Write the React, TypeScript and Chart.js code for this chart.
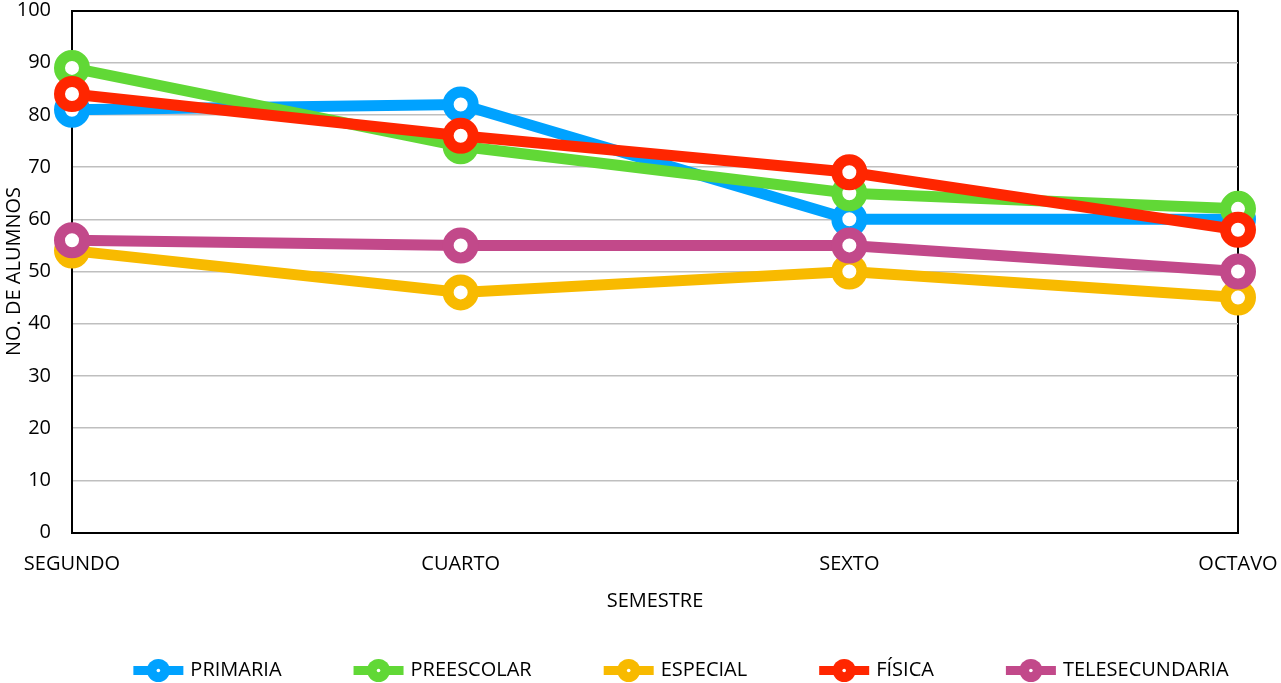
import React, { useEffect, useRef } from 'react';
import { Chart, registerables } from 'chart.js';

Chart.register(...registerables);

const semesters = ['SEGUNDO', 'CUARTO', 'SEXTO', 'OCTAVO'];
const primaria = [81, 82, 60, 60];
const preescolar = [89, 74, 65, 62];
const especial = [54, 46, 50, 45];
const fisica = [84, 76, 69, 58];
const telesecundaria = [56, 55, 55, 50];
const seriesNames = ['PRIMARIA', 'PREESCOLAR', 'ESPECIAL', 'FÍSICA', 'TELESECUNDARIA'];
const seriesValues = [primaria, preescolar, especial, fisica, telesecundaria];
const seriesColors = ['#00A2FF', '#61D836', '#F8BA00', '#FF2600', '#C2498A'];
const yMin = 0;
const yMax = 100;
const yStep = 10;
const yTitle = 'NO. DE ALUMNOS';
const xTitle = 'SEMESTRE';

const FONT = '"Open Sans"';

const legendPlugin = {
  id: 'excelLegend',
  afterDraw(chart: any) {
    const ctx = chart.ctx as CanvasRenderingContext2D;
    const ds = chart.data.datasets;
    ctx.save();
    ctx.font = `20px ${FONT}`;
    const markerW = 50;
    const gapText = 7;
    const gapItem = 72;
    const widths = ds.map((d: any) => ctx.measureText(d.label).width);
    const total =
      widths.reduce((a: number, w: number) => a + markerW + gapText + w, 0) +
      gapItem * (ds.length - 1);
    const center = (chart.chartArea.left + chart.chartArea.right) / 2 + 26;
    let x = center - total / 2;
    const y = chart.height - 12.5;
    ds.forEach((d: any, i: number) => {
      const c = d.borderColor;
      ctx.fillStyle = c;
      ctx.fillRect(x, y - 4.5, markerW, 9);
      ctx.beginPath();
      ctx.arc(x + markerW / 2, y, 11.5, 0, Math.PI * 2);
      ctx.fill();
      ctx.fillStyle = '#ffffff';
      ctx.beginPath();
      ctx.arc(x + markerW / 2, y, 1.8, 0, Math.PI * 2);
      ctx.fill();
      ctx.fillStyle = '#000000';
      ctx.textBaseline = 'middle';
      ctx.textAlign = 'left';
      ctx.fillText(d.label, x + markerW + gapText, y);
      x += markerW + gapText + widths[i] + gapItem;
    });
    ctx.restore();
  },
};

export default function App() {
  const canvasRef = useRef<HTMLCanvasElement | null>(null);

  useEffect(() => {
    if (!canvasRef.current) return;
    const n = seriesNames.length;
    const chart = new Chart(canvasRef.current, {
      type: 'line',
      data: {
        labels: semesters,
        datasets: seriesNames.map((name, i) => ({
          label: name,
          data: seriesValues[i],
          borderColor: seriesColors[i],
          backgroundColor: seriesColors[i],
          borderWidth: 11,
          pointRadius: 12.5,
          pointHoverRadius: 12.5,
          pointBorderWidth: 11,
          pointHoverBorderWidth: 11,
          pointBackgroundColor: '#ffffff',
          pointBorderColor: seriesColors[i],
          tension: 0,
          fill: false,
          clip: false as any,
          order: n - i,
        })),
      },
      options: {
        animation: false,
        responsive: false,
        devicePixelRatio: 1,
        layout: { autoPadding: false, padding: { left: 0, right: 43, top: 10.5, bottom: 66 } },
        plugins: {
          legend: { display: false },
          tooltip: { enabled: false },
          title: { display: false },
        },
        scales: {
          x: {
            type: 'category',
            offset: false,
            afterFit: (scale: any) => {
              scale.height = 84.5;
              scale.paddingLeft = 0;
              scale.paddingRight = 0;
            },
            grid: {
              display: true,
              drawTicks: false,
              color: (c: any) => (c.index === 0 || c.index === semesters.length - 1 ? '#000000' : 'rgba(0,0,0,0)'),
              lineWidth: 2,
            },
            border: { display: true, color: '#000000', width: 2 },
            ticks: {
              color: '#000000',
              padding: 20,
              maxRotation: 0,
              autoSkip: false,
              font: { family: FONT, size: 20, lineHeight: 1.2 },
            },
            title: {
              display: true,
              text: xTitle,
              color: '#000000',
              padding: { top: 4, bottom: 4 },
              font: { family: FONT, size: 20, lineHeight: 1.2 },
            },
          },
          y: {
            min: yMin,
            max: yMax,
            afterFit: (scale: any) => {
              scale.width = 72;
              scale.paddingTop = 0;
              scale.paddingBottom = 0;
            },
            grid: {
              drawTicks: false,
              color: (c: any) =>
                c.tick && (c.tick.value === yMax || c.tick.value === yMin) ? '#000000' : '#BFBFBF',
              lineWidth: (c: any) =>
                c.tick && (c.tick.value === yMax || c.tick.value === yMin) ? 2 : 1.5,
            },
            border: { display: true, color: '#000000', width: 2 },
            ticks: {
              stepSize: yStep,
              color: '#000000',
              padding: 21,
              font: { family: FONT, size: 20, lineHeight: 1 },
            },
            title: {
              display: true,
              text: yTitle,
              color: '#000000',
              padding: { top: 2, bottom: 2 },
              font: { family: FONT, size: 20, lineHeight: 1.2 },
            },
          },
        },
      },
      plugins: [legendPlugin],
    });
    return () => {
      chart.destroy();
    };
  }, []);

  return (
    <div
      style={{
        position: 'fixed',
        left: 0,
        top: 0,
        width: 1281,
        height: 683,
        background: '#ffffff',
      }}
    >
      <canvas ref={canvasRef} width={1281} height={683} style={{ width: 1281, height: 683, display: 'block' }} />
    </div>
  );
}
